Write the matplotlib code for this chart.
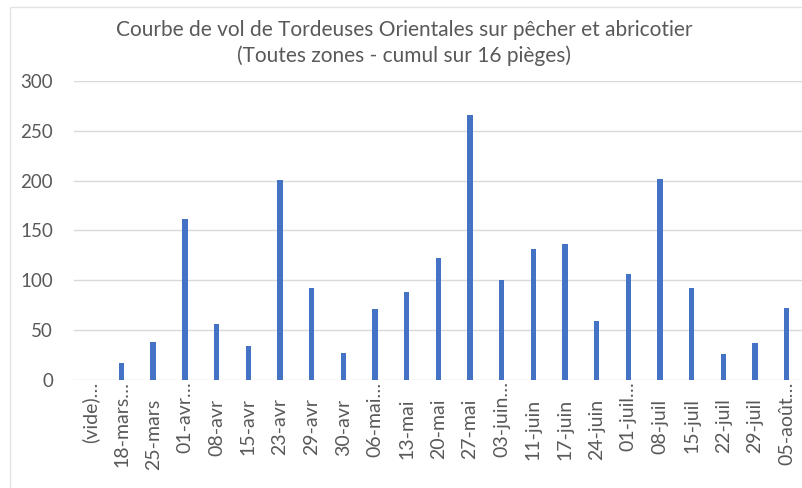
import matplotlib.pyplot as plt
import matplotlib.patches as patches
from matplotlib.transforms import ScaledTranslation

# Data (number of moths caught, summed over 16 traps)
dates = ['(vide)…', '18-mars…', '25-mars', '01-avr…', '08-avr', '15-avr', '23-avr',
         '29-avr', '30-avr', '06-mai…', '13-mai', '20-mai', '27-mai', '03-juin…',
         '11-juin', '17-juin', '24-juin', '01-juil…', '08-juil', '15-juil',
         '22-juil', '29-juil', '05-août…']
captures = [0, 17, 38, 162, 56, 34, 201, 92, 27, 71, 88, 122, 266, 100,
            131, 136, 59, 106, 202, 92, 26, 37, 72]
yticks = [0, 50, 100, 150, 200, 250, 300]

plt.rcParams['font.family'] = ['Lato', 'DejaVu Sans']
grey = '#595959'

fig = plt.figure(figsize=(8.02, 4.88), dpi=100)
ax = fig.add_axes([74 / 802, 1 - 380 / 488, 728.5 / 802, 299 / 488])

# light frame around the chart area, like the Excel export
fig.patches.append(patches.Rectangle((10 / 802, -0.1), 1, 1.1 - 7 / 488,
                                     transform=fig.transFigure, fill=False,
                                     edgecolor='#e3e3e3', linewidth=1))

x = range(len(dates))
ax.bar(x, captures, width=0.17, color='#4472c4', zorder=3)

ax.set_xlim(-0.5, len(dates) - 0.5)
ax.set_ylim(0, 300)
ax.set_yticks(yticks)
ax.set_yticklabels([str(v) for v in yticks], fontsize=13.5, color=grey)
ax.set_xticks(list(x))
ax.set_xticklabels(dates, rotation=90, fontsize=14, color=grey)
ax.tick_params(axis='both', length=0)
ax.tick_params(axis='y', pad=15)
ax.tick_params(axis='x', pad=1)

# labels without the ellipsis sit a bit lower in the original
shift = ScaledTranslation(0, -0.17, fig.dpi_scale_trans)
for lab in ax.get_xticklabels():
    if not lab.get_text().endswith('…'):
        lab.set_transform(lab.get_transform() + shift)

ax.grid(axis='y', color='#d9d9d9', linewidth=1, zorder=0)
for s in ax.spines.values():
    s.set_visible(False)

fig.text(404 / 802, 1 - 30 / 488,
         'Courbe de vol de Tordeuses Orientales sur pêcher et abricotier',
         ha='center', va='center', fontsize=15, color=grey)
fig.text(404 / 802, 1 - 56 / 488,
         '(Toutes zones - cumul sur 16 pièges)',
         ha='center', va='center', fontsize=15, color=grey)

fig.savefig('out.png', dpi=100)
